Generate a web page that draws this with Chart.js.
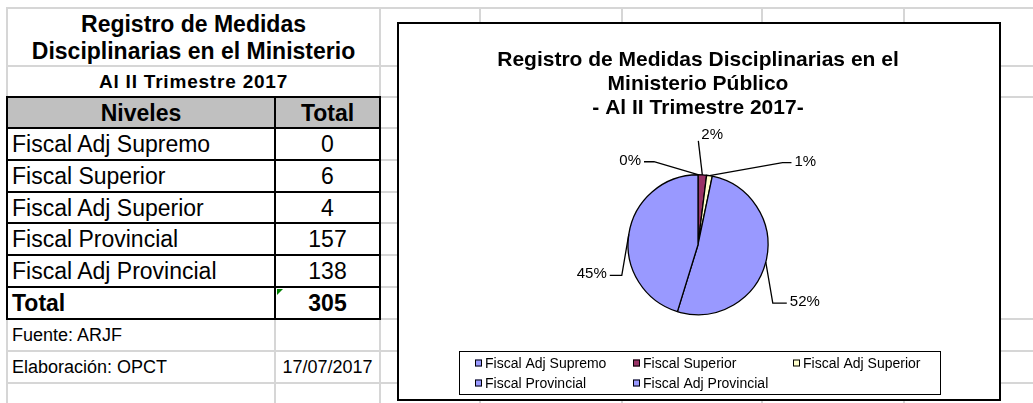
<!DOCTYPE html>
<html>
<head>
<meta charset="utf-8">
<script src="https://cdn.jsdelivr.net/npm/chart.js@4/dist/chart.umd.min.js"></script>
<style>
html,body{margin:0;padding:0;background:#fff;}
#page{position:relative;width:1033px;height:403px;overflow:hidden;font-family:"Liberation Sans",Arial,sans-serif;color:#000;background:#fff;}
.g{position:absolute;background:#d6d6d6;}
.b{position:absolute;background:#000;}
.t{position:absolute;display:flex;align-items:center;white-space:nowrap;box-sizing:border-box;}
#hdrFill{position:absolute;left:7px;top:97px;width:373px;height:31px;background:#c0c0c0;}
#chartBox{position:absolute;left:397px;top:22px;width:600px;height:375px;border:2px solid #000;background:#fff;}
#tri{position:absolute;left:277px;top:289px;width:0;height:0;border-top:6px solid #008000;border-right:6px solid transparent;}
</style>
</head>
<body>
<div id="page">
  <div id="hdrFill"></div>
  <div id="tri"></div>
  <div id="chartBox"><canvas id="c" width="600" height="375"></canvas></div>
</div>
<script>
// ---- data ----
const categories = ['Fiscal Adj Supremo', 'Fiscal Superior', 'Fiscal Adj Superior', 'Fiscal Provincial', 'Fiscal Adj Provincial'];
const totals = [0, 6, 4, 157, 138];
const tableTitle = ['Registro de Medidas', 'Disciplinarias en el Ministerio'];
const tableSubtitle = 'Al II Trimestre 2017';
const tableHeaders = ['Niveles', 'Total'];
const totalLabel = 'Total';
const sourceText = 'Fuente: ARJF';
const madeByText = 'Elaboración: OPCT';
const dateText = '17/07/2017';
const chartTitle = ['Registro de Medidas Disciplinarias en el', 'Ministerio Público', '- Al II Trimestre 2017-'];

// ---- styles ----
const FONT = '"Liberation Sans", Arial, sans-serif';
const sliceColors = ['#9999FF', '#993366', '#FFFFCC', '#9999FF', '#9999FF'];

const page = document.getElementById('page');
const chartBox = document.getElementById('chartBox');

function line(cls, x, y, w, h) {
  const d = document.createElement('div');
  d.className = cls;
  d.style.left = x + 'px'; d.style.top = y + 'px';
  d.style.width = w + 'px'; d.style.height = h + 'px';
  page.insertBefore(d, chartBox);
}
function hline(cls, x1, x2, y) { line(cls, x1, y - 1, x2 - x1, 2); }
function vline(cls, x, y1, y2) { line(cls, x - 1, y1, 2, y2 - y1); }

// spreadsheet grid (gray)
const rowsY = [8, 66, 97, 128, 160, 192, 223, 255, 287, 319, 351, 383];
hline('g', 6, 1033, 8);
hline('g', 6, 1033, 66);
hline('g', 380, 1033, 97);
[128, 160, 192, 223, 255, 287].forEach(y => hline('g', 380, 400, y));
hline('g', 380, 1033, 319);
hline('g', 6, 1033, 351);
hline('g', 6, 1033, 383);
vline('g', 7, 8, 97); vline('g', 7, 319, 403);
vline('g', 275, 319, 403);
vline('g', 380, 8, 97); vline('g', 380, 319, 403);
[480, 622, 762, 904].forEach(x => vline('g', x, 8, 403));
// table borders (black)
[97, 128, 160, 192, 223, 255, 287, 319].forEach(y => hline('b', 6, 381, y));
[7, 275, 380].forEach(x => vline('b', x, 96, 320));

function text(str, x, y, w, h, opts) {
  const d = document.createElement('div');
  d.className = 't';
  d.style.left = x + 'px'; d.style.top = y + 'px';
  d.style.width = w + 'px'; d.style.height = h + 'px';
  d.style.fontSize = (opts.size || 23) + 'px';
  d.style.fontWeight = opts.bold ? 'bold' : 'normal';
  d.style.justifyContent = opts.align === 'left' ? 'flex-start' : (opts.align === 'right' ? 'flex-end' : 'center');
  if (opts.pad) d.style.paddingLeft = opts.pad + 'px';
  if (opts.ls) d.style.letterSpacing = opts.ls + 'px';
  if (opts.lh) { d.style.lineHeight = opts.lh + 'px'; d.style.flexDirection = 'column'; d.style.justifyContent = 'center'; }
  if (Array.isArray(str)) { str.forEach(s => { const sp = document.createElement('div'); sp.textContent = s; d.appendChild(sp); }); }
  else d.textContent = str;
  page.insertBefore(d, chartBox);
}

text(tableTitle, 7, 9, 373, 57, {bold: true, size: 23, lh: 27});
text(tableSubtitle, 7, 67, 373, 30, {bold: true, size: 19, ls: 0.8});
text(tableHeaders[0], 7, 98, 268, 30, {bold: true, size: 23});
text(tableHeaders[1], 275, 98, 105, 30, {bold: true, size: 23});
const rowTops = [128, 160, 192, 223, 255];
categories.forEach((c, i) => {
  const top = rowTops[i], h = rowsY[rowsY.indexOf(top) + 1] - top;
  text(c, 7, top + 1, 268, h - 1, {size: 23, align: 'left', pad: 5});
  text(String(totals[i]), 275, top + 1, 105, h - 1, {size: 23});
});
const grand = totals.reduce((a, b) => a + b, 0);
text(totalLabel, 7, 288, 268, 31, {bold: true, size: 23, align: 'left', pad: 5});
text(String(grand), 275, 288, 105, 31, {bold: true, size: 23});
text(sourceText, 7, 320, 268, 31, {size: 18, align: 'left', pad: 5});
text(madeByText, 7, 352, 268, 31, {size: 18, align: 'left', pad: 5});
text(dateText, 275, 352, 105, 31, {size: 18});

// ---- chart ----
function roundPercents(vals) {
  const tot = vals.reduce((a, b) => a + b, 0);
  const raw = vals.map(v => v / tot * 100);
  const fl = raw.map(Math.floor);
  const rem = 100 - fl.reduce((a, b) => a + b, 0);
  const order = raw.map((r, i) => [r - fl[i], i]).sort((a, b) => b[0] - a[0]);
  for (let k = 0; k < rem; k++) fl[order[k][1]]++;
  return fl;
}

// leader layout per slice: elbow offset from the slice's outer mid point, horizontal tail
const labelLayout = [
  {dx: -44, dy: -13, tail: -10},
  {dx: -4, dy: -34, tail: 0},
  {dx: 73, dy: -13, tail: 9},
  {dx: 7, dy: 41, tail: 14},
  {dx: -7, dy: 41, tail: -12}
];

const labelPlugin = {
  id: 'pctLabels',
  afterDatasetsDraw(chart) {
    const ctx = chart.ctx;
    const meta = chart.getDatasetMeta(0);
    const pcts = roundPercents(chart.data.datasets[0].data);
    ctx.save();
    ctx.strokeStyle = '#000';
    ctx.lineWidth = 1.3;
    ctx.fillStyle = '#000';
    ctx.font = '15px ' + FONT;
    ctx.textBaseline = 'middle';
    meta.data.forEach((arc, i) => {
      const p = arc.getProps(['x', 'y', 'startAngle', 'endAngle', 'outerRadius'], true);
      const mid = (p.startAngle + p.endAngle) / 2;
      const ax = p.x + Math.cos(mid) * p.outerRadius;
      const ay = p.y + Math.sin(mid) * p.outerRadius;
      const L = labelLayout[i];
      const ex = ax + L.dx, ey = ay + L.dy;
      ctx.beginPath();
      ctx.moveTo(ax, ay);
      ctx.lineTo(ex, ey);
      ctx.lineTo(ex + L.tail, ey);
      ctx.stroke();
      const txt = pcts[i] + '%';
      if (L.tail === 0) {
        ctx.textAlign = 'left';
        ctx.fillText(txt, ex + 3, ey - 6);
      } else if (L.tail < 0) {
        ctx.textAlign = 'right';
        ctx.fillText(txt, ex + L.tail - 3, ey - 1);
      } else {
        ctx.textAlign = 'left';
        ctx.fillText(txt, ex + L.tail + 3, ey - 1);
      }
    });
    ctx.restore();
  }
};

const legendBox = {x: 60, y: 327, w: 481, h: 43, colX: [76, 234, 394], rowY: [339, 359], key: 7};
const legendPlugin = {
  id: 'boxLegend',
  afterDraw(chart) {
    const ctx = chart.ctx;
    const ds = chart.data.datasets[0];
    ctx.save();
    ctx.strokeStyle = '#000';
    ctx.lineWidth = 1;
    ctx.strokeRect(legendBox.x + 0.5, legendBox.y + 0.5, legendBox.w, legendBox.h);
    ctx.font = '14px ' + FONT;
    ctx.textBaseline = 'middle';
    ctx.textAlign = 'left';
    chart.data.labels.forEach((lab, i) => {
      const x = legendBox.colX[i % 3], y = legendBox.rowY[Math.floor(i / 3)];
      const k = legendBox.key;
      ctx.fillStyle = ds.backgroundColor[i];
      ctx.fillRect(x, y - k / 2, k, k);
      ctx.strokeRect(x + 0.5, y - k / 2 + 0.5, k - 1, k - 1);
      ctx.fillStyle = '#000';
      ctx.fillText(lab, x + k + 3, y + 1);
    });
    ctx.restore();
  }
};

new Chart(document.getElementById('c').getContext('2d'), {
  type: 'pie',
  data: {
    labels: categories,
    datasets: [{data: totals, backgroundColor: sliceColors, borderColor: '#000', borderWidth: 1.3, radius: 70}]
  },
  options: {
    responsive: false,
    animation: false,
    devicePixelRatio: 1,
    layout: {padding: {left: 0, right: 2, top: 0, bottom: 61}},
    plugins: {
      legend: {display: false},
      tooltip: {enabled: false},
      title: {
        display: true, text: chartTitle, color: '#000',
        font: {family: FONT, size: 21, weight: 'bold', lineHeight: 1.15},
        padding: {top: 24, bottom: 31}
      }
    }
  },
  plugins: [labelPlugin, legendPlugin]
});
</script>
</body>
</html>
